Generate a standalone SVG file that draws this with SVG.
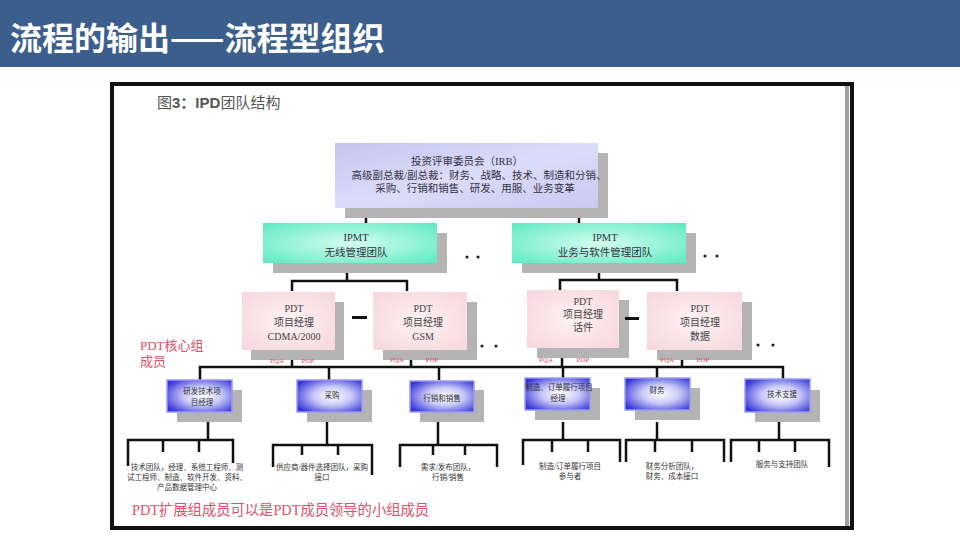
<svg xmlns="http://www.w3.org/2000/svg" width="960" height="540" viewBox="0 0 960 540">
<defs>
<linearGradient id="gIrb" x1="0" y1="0" x2="1" y2="1">
<stop offset="0" stop-color="#c4c4f0"/><stop offset="0.5" stop-color="#dcdcfa"/><stop offset="1" stop-color="#c8c8f2"/>
</linearGradient>
<radialGradient id="gIpmt" cx="0.5" cy="0.5" r="0.7">
<stop offset="0" stop-color="#d4fcee"/><stop offset="1" stop-color="#5eeac2"/>
</radialGradient>
<radialGradient id="gPdt" cx="0.5" cy="0.5" r="0.7">
<stop offset="0" stop-color="#fff2f4"/><stop offset="1" stop-color="#f6d6dc"/>
</radialGradient>
<radialGradient id="gFn" cx="0.55" cy="0.5" r="0.65">
<stop offset="0" stop-color="#ffffff"/><stop offset="0.45" stop-color="#c8c8f8"/><stop offset="1" stop-color="#3434d8"/>
</radialGradient>
<style>
.sh{fill:#b4b4b4}
.irb{fill:url(#gIrb)}
.ipmt{fill:url(#gIpmt)}
.pdt{fill:url(#gPdt)}
.fn{fill:url(#gFn);stroke:#9a9af4;stroke-width:1.5}
.t{font-family:"Liberation Serif","Noto Sans CJK SC",serif;fill:#333;text-anchor:middle}
.tb{font-size:10.5px;fill:#334}
.tp{font-size:10px;fill:#444}
.tf{font-size:7.5px;fill:#333}
.tm{font-size:7.5px;fill:#333}
.red{font-family:"Liberation Serif","Noto Sans CJK SC",serif;fill:#e0506a}
.pq{font-size:7px;text-anchor:middle}
.ln{stroke:#111;stroke-width:2.5;fill:none}
.dot{fill:#222}
</style>
</defs>
<rect x="0" y="0" width="960" height="540" fill="#ffffff"/>
<rect x="0" y="0" width="960" height="67" fill="#3b5e8c"/>
<text x="10" y="50" font-family="'Noto Sans CJK SC',sans-serif" font-weight="bold" font-size="32" fill="#ffffff">流程的输出——流程型组织</text>
<rect x="112" y="84" width="740" height="444" fill="#ffffff" stroke="#111" stroke-width="4"/>
<rect x="845" y="86" width="4" height="440" fill="#a0a0a0"/>
<text x="157" y="108" font-family="'Liberation Sans','Noto Sans CJK SC',sans-serif" font-size="15" fill="#555">图<tspan font-weight="bold">3：IPD</tspan>团队结构</text>

<g id="connectors">
<path class="ln" d="M366 208V223M579 208V223"/>
<path class="ln" d="M347 263V281M292 291V281H407V291"/>
<path class="ln" d="M599 263V280M560 291V280H677V291"/>
<path class="ln" d="M292 350V367M411 350V367M562 350V367M682 350V367"/>
<path class="ln" d="M200 380V367H783V380M329 367V380M439 367V380M563 367V380M657 367V380"/>
<path class="ln" d="M208 422V440M128 466V440H233V463M163 440V452M199 440V452"/>
<path class="ln" d="M327 422V445M273 467V445H372V475M302 445V455M338 445V455"/>
<path class="ln" d="M438 422V445M400 467V445H497V467M433 445V455M465 445V455"/>
<path class="ln" d="M563 422V440M523 465V440H620V462M552 440V452M588 440V452"/>
<path class="ln" d="M657 422V440M626 462V440H724V462M655 440V452M692 440V452"/>
<path class="ln" d="M779 422V440M731 462V440H829V467M759 440V452M795 440V452"/>
</g>

<g id="irb">
<rect class="sh" x="345" y="153" width="263" height="65"/>
<rect class="irb" x="335" y="143" width="263" height="65"/>
<text class="t tb" x="467" y="165">投资评审委员会（IRB）</text>
<text class="t tb" x="479" y="179">高级副总裁/副总裁：财务、战略、技术、制造和分销、</text>
<text class="t tb" x="475" y="192">采购、行销和销售、研发、用服、业务变革</text>
</g>

<g id="ipmt1">
<rect class="sh" x="273" y="233" width="174" height="40"/>
<rect class="ipmt" x="263" y="223" width="174" height="40"/>
<text class="t tb" x="356" y="241">IPMT</text>
<text class="t tb" x="356" y="256">无线管理团队</text>
</g>
<g id="ipmt2">
<rect class="sh" x="522" y="233" width="174" height="40"/>
<rect class="ipmt" x="512" y="223" width="174" height="40"/>
<text class="t tb" x="605" y="241">IPMT</text>
<text class="t tb" x="605" y="256">业务与软件管理团队</text>
</g>
<g id="dots1"><circle class="dot" cx="467" cy="257" r="1.6"/><circle class="dot" cx="478" cy="257" r="1.6"/></g>
<g id="dots2"><circle class="dot" cx="705" cy="256" r="1.6"/><circle class="dot" cx="717" cy="256" r="1.6"/></g>

<g id="pdt1">
<rect class="sh" x="251" y="302" width="93" height="58"/>
<rect class="pdt" x="242" y="292" width="93" height="58"/>
<text class="t tp" x="294" y="312">PDT</text>
<text class="t tp" x="294" y="326">项目经理</text>
<text class="t tp" x="294" y="340">CDMA/2000</text>
</g>
<g id="pdt2">
<rect class="sh" x="383" y="302" width="94" height="58"/>
<rect class="pdt" x="373" y="292" width="94" height="58"/>
<text class="t tp" x="423" y="312">PDT</text>
<text class="t tp" x="423" y="326">项目经理</text>
<text class="t tp" x="423" y="340">GSM</text>
</g>
<g id="pdt3">
<rect class="sh" x="537" y="300" width="92" height="58"/>
<rect class="pdt" x="527" y="290" width="92" height="58"/>
<text class="t tp" x="583" y="305">PDT</text>
<text class="t tp" x="583" y="318">项目经理</text>
<text class="t tp" x="583" y="331">话件</text>
</g>
<g id="pdt4">
<rect class="sh" x="657" y="302" width="95" height="58"/>
<rect class="pdt" x="647" y="292" width="95" height="58"/>
<text class="t tp" x="700" y="312">PDT</text>
<text class="t tp" x="700" y="326">项目经理</text>
<text class="t tp" x="700" y="340">数据</text>
</g>
<rect x="352" y="316" width="15" height="3" fill="#111"/>
<rect x="625" y="317" width="14" height="3" fill="#111"/>
<g id="dots3"><circle class="dot" cx="482" cy="346" r="1.6"/><circle class="dot" cx="496" cy="346" r="1.6"/></g>
<g id="dots4"><circle class="dot" cx="758" cy="345" r="1.6"/><circle class="dot" cx="773" cy="345" r="1.6"/></g>

<g id="pqa">
<text class="red pq" x="277" y="363">PQA</text><text class="red pq" x="308" y="363">POP</text>
<text class="red pq" x="397" y="362">PQA</text><text class="red pq" x="432" y="362">POP</text>
<text class="red pq" x="546" y="362">PQA</text><text class="red pq" x="583" y="362">POP</text>
<text class="red pq" x="667" y="362">PQA</text><text class="red pq" x="703" y="362">POP</text>
</g>
<text class="red" x="140" y="350" font-size="13">PDT核心组</text>
<text class="red" x="140" y="366" font-size="13">成员</text>

<g id="fn1">
<rect class="sh" x="177" y="390" width="65" height="32"/>
<rect class="fn" x="167" y="380" width="65" height="32"/>
<text class="t tf" x="202" y="394">研发技术项</text>
<text class="t tf" x="202" y="405">目经理</text>
</g>
<g id="fn2">
<rect class="sh" x="307" y="390" width="65" height="32"/>
<rect class="fn" x="297" y="380" width="65" height="32"/>
<text class="t tf" x="332" y="398">采购</text>
</g>
<g id="fn3">
<rect class="sh" x="420" y="390" width="64" height="32"/>
<rect class="fn" x="410" y="381" width="64" height="31"/>
<text class="t tf" x="442" y="401">行销和销售</text>
</g>
<g id="fn4">
<rect class="sh" x="535" y="388" width="65" height="32"/>
<rect class="fn" x="525" y="378" width="65" height="32"/>
<text class="t tf" x="559" y="390">制造、订单履行项目</text>
<text class="t tf" x="558" y="401">经理</text>
</g>
<g id="fn5">
<rect class="sh" x="635" y="388" width="65" height="32"/>
<rect class="fn" x="625" y="378" width="65" height="32"/>
<text class="t tf" x="657" y="393">财务</text>
</g>
<g id="fn6">
<rect class="sh" x="755" y="390" width="65" height="32"/>
<rect class="fn" x="745" y="379" width="65" height="33"/>
<text class="t tf" x="782" y="397">技术支援</text>
</g>

<g id="ext1">
<text class="t tm" x="187" y="470">技术团队，经理、系统工程师、测</text>
<text class="t tm" x="187" y="480">试工程师、制造、软件开发、资料、</text>
<text class="t tm" x="187" y="490">产品数据管理中心</text>
</g>
<g id="ext2">
<text class="t tm" x="322" y="470">供应商/器件选择团队，采购</text>
<text class="t tm" x="322" y="480">接口</text>
</g>
<g id="ext3">
<text class="t tm" x="448" y="470">需求/发布团队，</text>
<text class="t tm" x="448" y="480">行销/销售</text>
</g>
<g id="ext4">
<text class="t tm" x="570" y="469">制造/订单履行项目</text>
<text class="t tm" x="570" y="479">参与者</text>
</g>
<g id="ext5">
<text class="t tm" x="672" y="469">财务分析团队，</text>
<text class="t tm" x="672" y="479">财务、成本接口</text>
</g>
<g id="ext6">
<text class="t tm" x="782" y="467">服务与支持团队</text>
</g>
<text class="red" x="132" y="515" font-size="14.3">PDT扩展组成员可以是PDT成员领导的小组成员</text>
</svg>
